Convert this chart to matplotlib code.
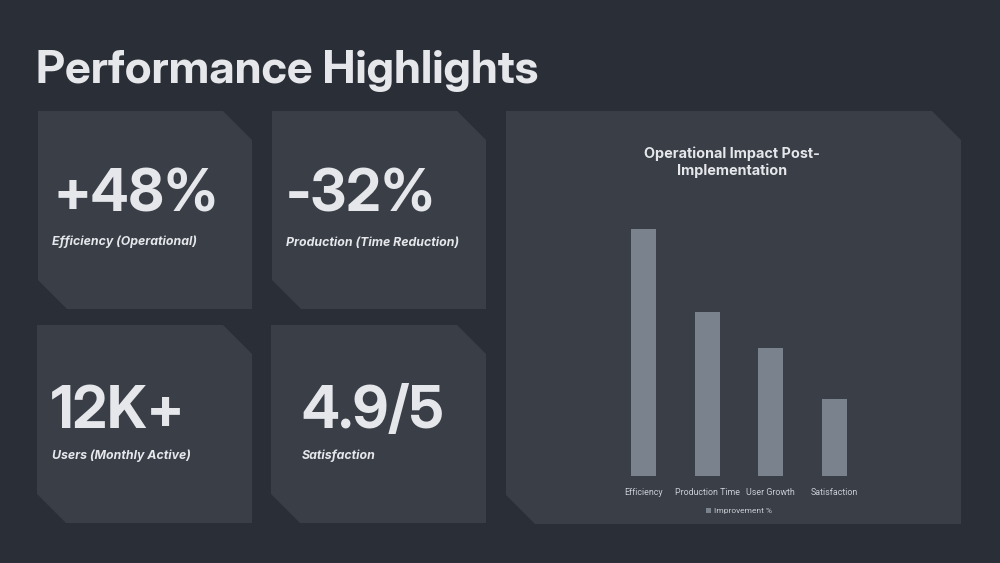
import matplotlib
matplotlib.use("Agg")
import matplotlib.pyplot as plt
from matplotlib.patches import Polygon, Rectangle

# ---- data ----
kpi_values = ["+48%", "-32%", "12K+", "4.9/5"]
kpi_labels = ["Efficiency (Operational)", "Production (Time Reduction)",
              "Users (Monthly Active)", "Satisfaction"]
categories = ["Efficiency", "Production Time", "User Growth", "Satisfaction"]
improvement = [48, 32, 25, 15]
series_name = "Improvement %"
page_title = "Performance Highlights"
chart_title = "Operational Impact Post-\nImplementation"

BG = "#2a2e36"
CARD = "#393e47"
TXT = "#e5e7eb"
BAR = "#7a828d"
TICK = "#c9cdd3"
W, H = 1000, 563

fig = plt.figure(figsize=(10, 5.63), dpi=100, facecolor=BG)
bg = fig.add_axes([0, 0, 1, 1])
bg.set_xlim(0, W)
bg.set_ylim(H, 0)
bg.axis("off")
bg.set_facecolor(BG)


def card(x0, y0, x1, y1, c=29):
    pts = [(x0, y0), (x1 - c, y0), (x1, y0 + c), (x1, y1), (x0 + c, y1), (x0, y1 - c)]
    bg.add_patch(Polygon(pts, closed=True, facecolor=CARD, edgecolor="none"))


boxes = [(38, 111, 252, 309), (272, 111, 486, 309),
         (37, 325, 252, 523), (271, 325, 486, 523)]
for b in boxes:
    card(*b)
card(506, 111, 961, 524, c=29)

bg.text(36, 83, page_title, fontsize=33, fontweight="bold", family="Inter Display",
        color=TXT, va="baseline", ha="left")

val_pos = [(53, 211.5), (286, 211.5), (51, 428), (301, 428)]
lab_pos = [(52, 245.5), (286, 245.5), (52, 459), (302, 459)]
for v, l, vp, lp in zip(kpi_values, kpi_labels, val_pos, lab_pos):
    bg.text(vp[0], vp[1], v, fontsize=41.5, fontweight="bold", family="Inter Display",
            color=TXT, va="baseline", ha="left")
    bg.text(lp[0], lp[1], l, fontsize=8.9, fontweight="bold", style="italic",
            family="Inter", color=TXT, va="baseline", ha="left")

bg.text(732, 162, chart_title, fontsize=10.4, fontweight="bold", family="Inter",
        color=TXT, ha="center", va="center", linespacing=1.2)

# ---- bar chart ----
ax = fig.add_axes([0.6117, (H - 476) / H, 0.2546, 257 / H])
ax.set_facecolor("none")
x = list(range(len(categories)))
ax.bar(x, improvement, width=0.39, color=BAR)
ax.set_xlim(-0.5, len(categories) - 0.5)
ax.set_ylim(0, 50)
ax.set_xticks(x)
ax.set_xticklabels(categories, fontsize=6.4, color=TICK, family="Roboto")
ax.tick_params(axis="x", length=0, pad=8.5)
ax.set_yticks([])
for s in ax.spines.values():
    s.set_visible(False)

handle = Rectangle((0, 0), 1, 1, facecolor=BAR, edgecolor="none")
ax.legend([handle], [series_name], loc="upper center",
          bbox_to_anchor=(0.5, -0.095), frameon=False,
          prop={"family": "Roboto", "size": 6.0},
          handlelength=0.6, handleheight=0.6, handletextpad=0.4,
          labelcolor=TICK)

fig.savefig("out.png", dpi=100, facecolor=BG)
